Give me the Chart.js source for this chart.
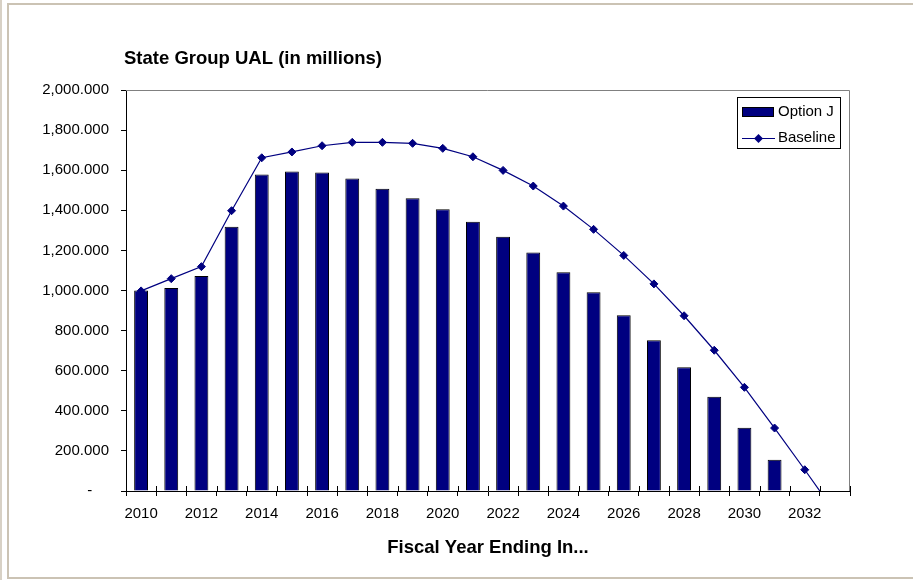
<!DOCTYPE html>
<html>
<head>
<meta charset="utf-8">
<script src="https://cdn.jsdelivr.net/npm/chart.js@4/dist/chart.umd.min.js"></script>
<style>
  html, body { margin: 0; padding: 0; background: #fff; }
  #wrap { position: relative; width: 913px; height: 580px; overflow: hidden; }
  #edge { position: absolute; left: 0; top: 0; width: 2px; height: 580px; background: #d8d1c5; }
  #frame { position: absolute; left: 7px; top: 3px; width: 920px; height: 572px;
           border: 2px solid #cbc3b4; border-right: none; }
  #chartBox { position: absolute; left: 0; top: 0; width: 913px; height: 580px; }
</style>
</head>
<body>
<div id="wrap">
  <div id="edge"></div>
  <div id="frame"></div>
  <div id="chartBox"><canvas id="ualChart"></canvas></div>
</div>
<script>
// fiscal years on the x axis
const years = [2010, 2011, 2012, 2013, 2014, 2015, 2016, 2017, 2018, 2019, 2020, 2021,
               2022, 2023, 2024, 2025, 2026, 2027, 2028, 2029, 2030, 2031, 2032, 2033];

// UAL in millions
const optionJ = [1000, 1012, 1072, 1318, 1578, 1594, 1588, 1558, 1508, 1460, 1405, 1343,
                 1268, 1189, 1091, 991, 876, 752, 617, 470, 316, 156, null, null];
const baseline = [998, 1059, 1119, 1398, 1662, 1691, 1722, 1739, 1739, 1734, 1709, 1667,
                  1599, 1521, 1421, 1305, 1175, 1033, 874, 702, 517, 314, 106, -106];

const yTicks = [0, 200, 400, 600, 800, 1000, 1200, 1400, 1600, 1800, 2000];

const FONT = '"Liberation Sans", Arial, sans-serif';
const NAVY = "#000080";

/* ---- title, plot frame, inner x ticks, legend ---- */
const decorations = {
  id: "decorations",
  beforeDatasetsDraw(chart) {
    const { ctx, chartArea: a } = chart;
    ctx.save();
    ctx.strokeStyle = "#808080";
    ctx.lineWidth = 1;
    ctx.beginPath();
    ctx.moveTo(a.left, a.top + 0.5);
    ctx.lineTo(a.right - 0.5, a.top + 0.5);
    ctx.lineTo(a.right - 0.5, a.bottom);
    ctx.stroke();
    ctx.restore();
  },
  afterDraw(chart) {
    const { ctx, chartArea: a } = chart;
    const x = chart.scales.x;
    ctx.save();

    // chart title
    ctx.fillStyle = "#000";
    ctx.font = "bold 18.5px " + FONT;
    ctx.textAlign = "left";
    ctx.textBaseline = "alphabetic";
    ctx.fillText("State Group UAL (in millions)", 124, 64);

    // tick marks crossing into the plot
    ctx.strokeStyle = "#000";
    ctx.lineWidth = 1;
    ctx.beginPath();
    for (let i = 0; i <= years.length; i++) {
      const px = Math.round(x.left + (x.width * i) / years.length) + 0.5;
      ctx.moveTo(px, a.bottom);
      ctx.lineTo(px, a.bottom - 5);
    }
    ctx.stroke();

    // legend box
    const lx = 737.5, ly = 97.5, lw = 103, lh = 51;
    ctx.fillStyle = "#fff";
    ctx.fillRect(lx, ly, lw, lh);
    ctx.strokeStyle = "#000";
    ctx.strokeRect(lx, ly, lw, lh);

    ctx.fillStyle = NAVY;
    ctx.fillRect(742.5, 107.5, 31, 9);
    ctx.strokeRect(742.5, 107.5, 31, 9);

    ctx.strokeStyle = NAVY;
    ctx.beginPath();
    ctx.moveTo(742, 138.5);
    ctx.lineTo(775, 138.5);
    ctx.stroke();
    ctx.fillStyle = NAVY;
    ctx.beginPath();
    ctx.moveTo(758.5, 134);
    ctx.lineTo(763, 138.5);
    ctx.lineTo(758.5, 143);
    ctx.lineTo(754, 138.5);
    ctx.closePath();
    ctx.fill();

    ctx.fillStyle = "#000";
    ctx.font = "15px " + FONT;
    ctx.textBaseline = "middle";
    ctx.fillText(chart.data.datasets[0].label, 778, 112);
    ctx.fillText(chart.data.datasets[1].label, 778, 138);
    ctx.restore();
  }
};

const ctx = document.getElementById("ualChart").getContext("2d");

new Chart(ctx, {
  data: {
    labels: years,
    datasets: [
      {
        type: "bar",
        label: "Option J",
        data: optionJ,
        backgroundColor: NAVY,
        borderColor: "#000",
        borderWidth: 1,
        categoryPercentage: 1,
        barPercentage: 0.46,
        order: 1
      },
      {
        type: "line",
        label: "Baseline",
        data: baseline,
        borderColor: NAVY,
        borderWidth: 1.2,
        pointStyle: "rectRot",
        pointRadius: 4,
        pointBackgroundColor: NAVY,
        pointBorderColor: NAVY,
        pointBorderWidth: 1,
        tension: 0,
        order: 0
      }
    ]
  },
  options: {
    responsive: true,
    maintainAspectRatio: false,
    devicePixelRatio: 1,
    animation: false,
    layout: { padding: { left: 0, top: 90, right: 63, bottom: 0 } },
    plugins: {
      legend: { display: false },
      title: { display: false },
      tooltip: { enabled: false }
    },
    scales: {
      x: {
        offset: true,
        grid: {
          offset: true,
          drawOnChartArea: false,
          tickLength: 5,
          color: "#000"
        },
        border: { color: "#000", width: 1 },
        ticks: {
          autoSkip: false,
          maxRotation: 0,
          padding: 9,
          color: "#000",
          font: { family: FONT, size: 15 },
          callback: (v, i) => (years[i] % 2 === 0 ? String(years[i]) : "")
        },
        title: {
          display: true,
          text: "Fiscal Year Ending In...",
          color: "#000",
          font: { family: FONT, size: 18.5, weight: "bold" },
          padding: { top: 0, bottom: 21 }
        },
        afterFit: (scale) => { scale.height = 89; }
      },
      y: {
        min: yTicks[0],
        max: yTicks[yTicks.length - 1],
        afterBuildTicks: (scale) => { scale.ticks = yTicks.map((v) => ({ value: v })); },
        grid: { drawOnChartArea: false, tickLength: 5, color: "#000" },
        border: { color: "#000", width: 1 },
        ticks: {
          padding: 12,
          color: "#000",
          font: { family: FONT, size: 15 },
          callback: (v) => (v === 0 ? "-    " :
            v.toLocaleString("en-US", { minimumFractionDigits: 3, maximumFractionDigits: 3 }))
        },
        afterFit: (scale) => { scale.width = 126; }
      }
    }
  },
  plugins: [decorations]
});
</script>
</body>
</html>
